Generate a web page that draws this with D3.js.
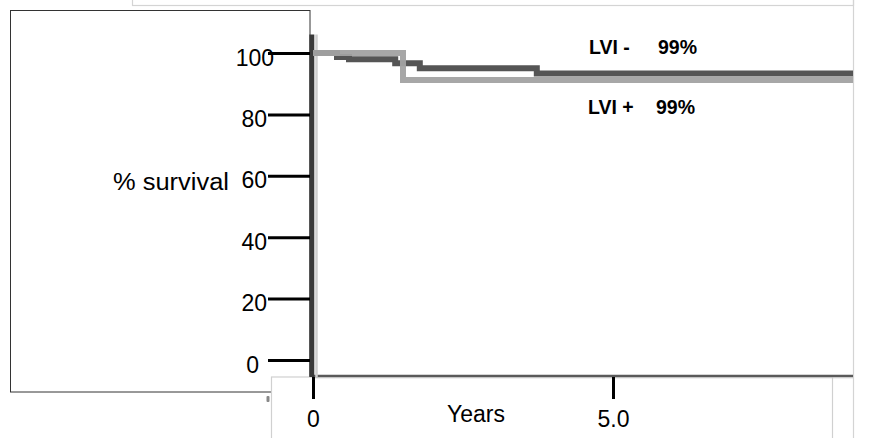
<!DOCTYPE html>
<html><head><meta charset="utf-8">
<script src="https://cdn.jsdelivr.net/npm/d3@7"></script>
<style>
html,body{margin:0;padding:0;background:#fff;}
svg{display:block;font-family:"Liberation Sans",Arial,sans-serif;}
</style></head>
<body><svg id="c" width="881" height="438"></svg>
<script>
// ---- data ----
const yTicks = [0, 20, 40, 60, 80, 100];
const xTicks = [0, 5];
const xTickLabels = ["0", "5.0"];
// Kaplan-Meier step points: [years, % survival]
const lviNegYears = [0, 0.4, 0.6, 1.37, 1.78, 3.73, 9];
const lviNegSurv  = [100, 98.7, 98, 96.7, 95, 93.3, 93.3];
const lviPosYears = [0, 1.5, 9];
const lviPosSurv  = [100, 91.2, 91.2];
const seriesNames = ["LVI -", "LVI +"];
const seriesPct = ["99%", "99%"];

const svg = d3.select("#c");
const x = d3.scaleLinear().domain([0, 9]).range([313, 853]);
const y = d3.scaleLinear().domain([0, 100]).range([360, 53]);

// background boxes
svg.append("rect").attr("x",132.5).attr("y",-10).attr("width",721).attr("height",15.5)
  .attr("fill","none").attr("stroke","#d4d4d4").attr("stroke-width",1.2);
svg.append("line").attr("x1",853.5).attr("x2",853.5).attr("y1",0).attr("y2",438)
  .attr("stroke","#d4d4d4").attr("stroke-width",1.2);
svg.append("rect").attr("x",10.5).attr("y",10.5).attr("width",299.5).attr("height",381.5)
  .attr("fill","#fff").attr("stroke","#333").attr("stroke-width",1);
svg.append("rect").attr("x",271.5).attr("y",377).attr("width",561).attr("height",80)
  .attr("fill","#fff").attr("stroke","#d0d0d0").attr("stroke-width",1.2);
svg.append("rect").attr("x",266.5).attr("y",396).attr("width",3).attr("height",6)
  .attr("fill","#888").attr("rx",1);

// x axis line
svg.append("line").attr("x1",313).attr("x2",853).attr("y1",376).attr("y2",376)
  .attr("stroke","#5a5a5a").attr("stroke-width",2.5);
svg.append("line").attr("x1",313).attr("x2",853).attr("y1",377.8).attr("y2",377.8)
  .attr("stroke","#c8c8c8").attr("stroke-width",1);

// y axis line (thick, with soft shadow)
svg.append("line").attr("x1",316.5).attr("x2",316.5).attr("y1",y(106)).attr("y2",y(-5.5))
  .attr("stroke","#cfcfcf").attr("stroke-width",2.5);
svg.append("line").attr("x1",311.8).attr("x2",311.8).attr("y1",y(106)).attr("y2",y(-5.5))
  .attr("stroke","#3a3a3a").attr("stroke-width",5);

// curves
const line = d3.line().x(d => x(d[0])).y(d => y(d[1])).curve(d3.curveStepAfter);
const negData = lviNegYears.map((t,i) => [t, lviNegSurv[i]]);
const posData = lviPosYears.map((t,i) => [t, lviPosSurv[i]]);
svg.append("path").datum(negData).attr("d", line).attr("fill","none")
  .attr("stroke","#555").attr("stroke-width",6);
svg.append("path").datum(posData).attr("d", line).attr("fill","none")
  .attr("stroke","#a2a2a2").attr("stroke-width",6).attr("stroke-opacity",0.95);

// y axis ticks
const yAxis = d3.axisLeft(y).tickValues(yTicks).tickSize(42).tickPadding(2).tickFormat(d3.format("d"));
const gy = svg.append("g").attr("transform","translate(310,0)").call(yAxis);
gy.select(".domain").remove();
gy.selectAll(".tick line").attr("stroke","#000").attr("stroke-width",3);
gy.selectAll(".tick text").attr("font-size",23).attr("fill","#000")
  .attr("dy",0).attr("y",12)
  .attr("x", d => d === 100 ? -36 : (d === 0 ? -51 : -43));

// x axis ticks
const xAxis = d3.axisBottom(x).tickValues(xTicks).tickSize(22).tickFormat((d,i) => xTickLabels[i]);
const gx = svg.append("g").attr("transform","translate(0,377)").call(xAxis);
gx.select(".domain").remove();
gx.selectAll(".tick line").attr("stroke","#000").attr("stroke-width",3);
gx.selectAll(".tick text").attr("font-size",23).attr("fill","#000").attr("dy",0).attr("y",50);

// axis titles
svg.append("text").attr("x",113).attr("y",190).attr("font-size",23).attr("fill","#000")
  .attr("textLength",116).attr("lengthAdjust","spacingAndGlyphs").text("% survival");
svg.append("text").attr("x",447).attr("y",422).attr("font-size",23).attr("fill","#000").text("Years");

// legend labels
const legY = [54, 114];
const legX = [589, 588];
const pctX = [658, 656];
seriesNames.forEach((n,i) => {
  svg.append("text").attr("x",legX[i]).attr("y",legY[i]).attr("font-size",19.5)
    .attr("font-weight","bold").attr("fill","#000").text(n);
  svg.append("text").attr("x",pctX[i]).attr("y",legY[i]).attr("font-size",19.5)
    .attr("font-weight","bold").attr("fill","#000").text(seriesPct[i]);
});
</script></body></html>
